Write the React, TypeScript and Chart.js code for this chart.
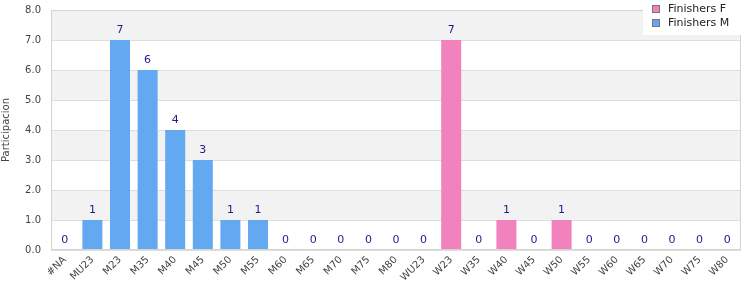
import React, { useEffect, useRef } from "react";
import { Chart, registerables } from "chart.js";

Chart.register(...registerables);

const categories = ["#NA", "MU23", "M23", "M35", "M40", "M45", "M50", "M55", "M60", "M65", "M70", "M75", "M80", "WU23", "W23", "W35", "W40", "W45", "W50", "W55", "W60", "W65", "W70", "W75", "W80"];
const finishersM = [0, 1, 7, 6, 4, 3, 1, 1, 0, 0, 0, 0, 0, null, null, null, null, null, null, null, null, null, null, null, null];
const finishersF = [null, null, null, null, null, null, null, null, null, null, null, null, null, 0, 7, 0, 1, 0, 1, 0, 0, 0, 0, 0, 0];
const yTicks = [0, 1, 2, 3, 4, 5, 6, 7, 8];

const FONT = "'DejaVu Sans', Verdana, sans-serif";
const BLUE = "#62a9f2";
const PINK = "#f282be";

const bandsPlugin = {
  id: "bands",
  beforeDraw(chart: any) {
    const { ctx, chartArea } = chart;
    const y = chart.scales.y;
    ctx.save();
    for (let i = 0; i < yTicks.length - 1; i++) {
      if ((yTicks.length - 2 - i) % 2 === 0) {
        const top = y.getPixelForValue(yTicks[i + 1]);
        const bot = y.getPixelForValue(yTicks[i]);
        ctx.fillStyle = "#f2f2f2";
        ctx.fillRect(chartArea.left, top, chartArea.right - chartArea.left, bot - top);
      }
    }
    ctx.restore();
  },
  afterDraw(chart: any) {
    const { ctx, chartArea } = chart;
    ctx.save();
    ctx.strokeStyle = "#d4d4d4";
    ctx.lineWidth = 1;
    ctx.strokeRect(chartArea.left + 0.5, chartArea.top + 0.5, chartArea.right - chartArea.left - 1, chartArea.bottom - chartArea.top - 1);
    // legend
    const lx = 643, ly = 0, lw = 98, lh = 35;
    ctx.fillStyle = "#ffffff";
    ctx.fillRect(lx, ly, lw, lh);
    const items = [
      { label: "Finishers F", color: PINK },
      { label: "Finishers M", color: BLUE },
    ];
    ctx.font = `11px ${FONT}`;
    ctx.textBaseline = "middle";
    items.forEach((it, i) => {
      const cy = 9 + i * 14;
      ctx.fillStyle = it.color;
      ctx.fillRect(652, cy - 4, 8, 8);
      ctx.strokeStyle = "#777";
      ctx.strokeRect(652.5, cy - 3.5, 7, 7);
      ctx.fillStyle = "#222";
      ctx.fillText(it.label, 668, cy);
    });
    ctx.restore();
  },
};

const labelsPlugin = {
  id: "valueLabels",
  afterDatasetsDraw(chart: any) {
    const { ctx } = chart;
    const x = chart.scales.x;
    const y = chart.scales.y;
    ctx.save();
    ctx.font = `11px ${FONT}`;
    ctx.fillStyle = "#1c1c8a";
    ctx.textAlign = "center";
    ctx.textBaseline = "bottom";
    categories.forEach((c, i) => {
      const v = finishersM[i] != null ? finishersM[i] : finishersF[i];
      if (v == null) return;
      ctx.fillText(String(v), x.getPixelForValue(i), y.getPixelForValue(v) - 4);
    });
    ctx.restore();
  },
};

export default function App() {
  const ref = useRef<HTMLCanvasElement>(null);
  useEffect(() => {
    document.body.style.margin = "0";
    const chart = new Chart(ref.current!, {
      type: "bar",
      data: {
        labels: categories,
        datasets: [
          { label: "Finishers F", data: finishersF, backgroundColor: PINK, barPercentage: 0.725, categoryPercentage: 1 },
          { label: "Finishers M", data: finishersM, backgroundColor: BLUE, barPercentage: 0.725, categoryPercentage: 1 },
        ],
      },
      options: {
        animation: false,
        responsive: false,
        layout: { padding: { top: 10, right: 9, left: 0, bottom: 0 } },
        plugins: { legend: { display: false }, tooltip: { enabled: false } },
        scales: {
          x: {
            stacked: true,
            grid: { display: false, drawTicks: false },
            border: { display: false },
            afterFit(s: any) { s.height = 50; s.paddingLeft = 0; s.paddingRight = 0; },
            ticks: {
              minRotation: 45,
              maxRotation: 45,
              autoSkip: false,
              padding: 4,
              color: "#444",
              font: { family: FONT, size: 10 },
            },
          },
          y: {
            stacked: true,
            min: 0,
            max: 8,
            afterFit(s: any) { s.width = 51; s.paddingTop = 0; s.paddingBottom = 0; },
            grid: { color: "#dedede", drawTicks: false },
            border: { display: false },
            ticks: {
              stepSize: 1,
              padding: 10,
              color: "#444",
              font: { family: FONT, size: 10 },
              callback: (v: any) => Number(v).toFixed(1),
            },
            title: {
              display: true,
              text: "Participacion",
              color: "#444",
              padding: 0,
              font: { family: FONT, size: 10 },
            },
          },
        },
      },
      plugins: [bandsPlugin, labelsPlugin],
    });
    return () => chart.destroy();
  }, []);
  return (
    <div style={{ position: "absolute", left: 0, top: 0, width: 750, height: 300 }}>
      <canvas ref={ref} width={750} height={300} style={{ display: "block" }} />
    </div>
  );
}
